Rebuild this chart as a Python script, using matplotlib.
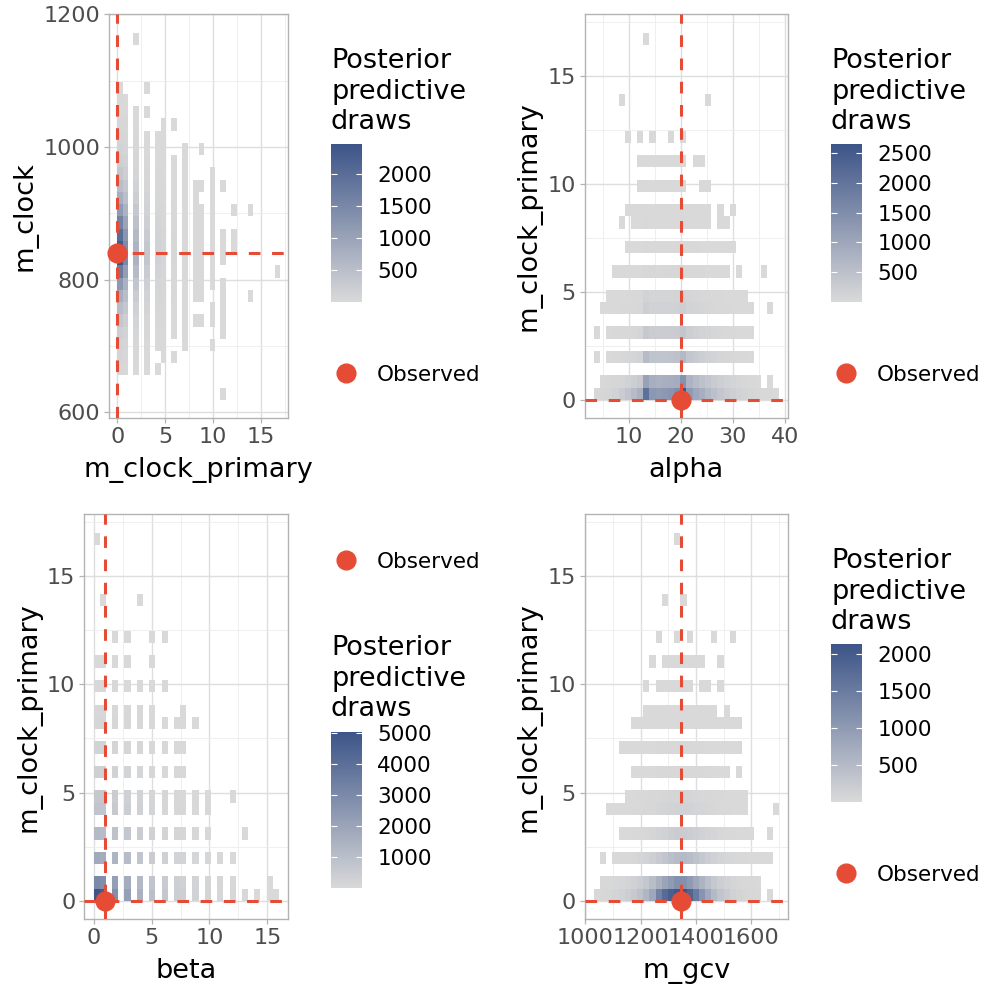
import numpy as np
import matplotlib
matplotlib.use('Agg')
import matplotlib.pyplot as plt
from matplotlib.colors import LinearSegmentedColormap, Normalize
from matplotlib.lines import Line2D

# ---- data (counts of posterior predictive draws per 2d bin) ----
# m_clock_primary is integer valued 0..17, beta 0..16
mcp_max = 17
beta_max = 16

# panel 1: columns keyed by m_clock_primary, runs of m_clock bins (bottom up)
mclock_lo, mclock_w = 618.9, 18.44
obs1 = (0, 841)
p1_cols = {
    0: [(2, [40, 70, 120, 200, 330, 520, 800, 1200, 1750, 2470, 2350, 2000, 1600, 1150,
             800, 520, 330, 200, 120, 75, 45, 25, 12, 5])],
    1: [(2, [25, 45, 75, 125, 210, 330, 500, 750, 1100, 1500, 1450, 1250, 1000, 720,
             500, 330, 210, 130, 80, 50, 30, 16, 8])],
    2: [(2, [10, 20, 35, 60, 100, 160, 250, 380, 560, 720, 690, 580, 450, 320, 210, 130,
             80, 50, 30, 18, 9, 4]), (29, [1])],
    3: [(2, [4, 8, 15, 30, 55, 90, 140, 200, 270, 350, 330, 270, 200, 140, 90, 55, 30, 18,
             9, 5]), (23, [2]), (25, [1])],
    4: [(2, [1]), (4, [4, 10, 20, 35, 55, 85, 115, 150, 140, 120, 95, 65, 40, 25, 15, 8,
                       4, 2])],
    5: [(3, [1, 3, 6, 12, 20, 32, 47, 62, 78, 75, 62, 48, 35, 24, 15, 9, 5, 3, 2, 1])],
    6: [(3, [1]), (5, [2, 4, 8, 13, 20, 28, 38, 36, 30, 22, 15, 9, 5, 3, 2]), (22, [1])],
    7: [(4, [1, 1, 2, 4, 6, 9, 13, 18, 17, 15, 11, 8, 5, 3, 2, 1, 1])],
    8: [(6, [2]), (8, [3, 5, 7, 9, 10, 9, 8, 6, 5, 3])],
    9: [(6, [1]), (8, [2, 3, 4, 5, 5, 5, 4, 3]), (17, [1]), (20, [1])],
    10: [(4, [1]), (6, [1, 1]), (9, [1, 2, 3, 3, 3, 2, 2, 1, 1, 1])],
    11: [(0, [1]), (5, [1, 1, 2, 2, 1]), (11, [1, 1, 1]), (17, [1])],
    12: [(12, [1, 1]), (15, [1])],
    14: [(8, [1]), (15, [1])],
    17: [(10, [1])],
}

# panel 2: rows keyed by m_clock_primary, runs of alpha bins
alpha_lo, alpha_w = 3.33, 1.186
obs2 = (20, 0)
p2_rows = {
    0: [(0, [30, 60, 90, 150, 250, 400, 600, 800, 2100, 1300, 1250, 1300, 1350, 1500, 2650,
             1250, 1000, 850, 650, 500, 380, 280, 200, 150, 100, 70, 50, 30, 15, 5])],
    1: [(1, [20, 35, 55, 90, 140, 220, 320, 1100, 850, 800, 820, 850, 900, 1400, 750, 600,
             480, 380, 280, 200, 140, 100, 70, 45, 25, 10]), (28, [2])],
    2: [(0, [3]), (2, [10, 20, 35, 55, 85, 130, 600, 450, 420, 430, 450, 480, 650, 380, 300,
                       230, 170, 120, 80, 55, 35, 20, 12, 5])],
    3: [(0, [2]), (2, [6, 12, 20, 32, 50, 75, 350, 260, 240, 250, 260, 280, 380, 220, 170,
                       130, 95, 65, 45, 30, 18, 10, 6, 3])],
    4: [(1, [2, 4, 7, 12, 20, 30, 45, 200, 150, 140, 145, 150, 160, 220, 130, 100, 75, 55,
             38, 25, 16, 10, 6, 4, 2]), (28, [1])],
    5: [(2, [2, 4, 7, 12, 18, 28, 120, 90, 85, 88, 92, 98, 130, 80, 60, 45, 33, 23, 15, 10,
             6, 4, 2])],
    6: [(3, [1, 2, 4, 7, 10, 45, 35, 32, 34, 36, 38, 50, 30, 22, 16, 11, 7, 4, 2]),
        (23, [1]), (27, [1])],
    7: [(5, [1, 3, 5, 25, 18, 17, 18, 19, 20, 28, 16, 12, 9, 6, 4, 2, 1, 1])],
    8: [(4, [1]), (6, [2, 3, 12, 9, 8, 9, 9, 10, 14, 8, 6, 4, 2]), (20, [1, 1])],
    9: [(5, [1, 1, 2, 7, 5, 5, 5, 5, 6, 8, 5, 3, 2, 1]), (20, [1]), (22, [1])],
    10: [(7, [1, 5, 3, 3, 3, 3, 3, 4]), (17, [1, 1])],
    11: [(7, [1, 3, 2, 2, 2, 2, 2, 3]), (16, [1, 1])],
    12: [(5, [1]), (7, [1]), (9, [1]), (12, [1]), (14, [1])],
    14: [(4, [1]), (18, [1])],
    17: [(8, [1])],
}

# panel 3: rows keyed by m_clock_primary, counts for beta = 0..16
obs3 = (1, 0)
p3_rows = {
    0: [5030, 4700, 2800, 2200, 1500, 1000, 700, 450, 400, 280, 180, 110, 60, 30, 15, 8, 4],
    1: [3000, 2800, 2200, 1700, 1200, 800, 550, 380, 330, 220, 140, 85, 45, 0, 0, 6, 0],
    2: [1800, 1700, 1400, 1100, 750, 500, 330, 220, 200, 130, 80, 45, 20, 0, 0, 0, 0],
    3: [1200, 1100, 900, 700, 480, 320, 210, 140, 120, 75, 40, 0, 0, 3, 0, 0, 0],
    4: [800, 750, 600, 450, 300, 200, 130, 85, 75, 45, 25, 0, 0, 0, 0, 0, 0],
    5: [650, 600, 480, 360, 240, 160, 100, 65, 55, 35, 18, 0, 2, 0, 0, 0, 0],
    6: [380, 350, 280, 200, 130, 85, 55, 35, 30, 0, 0, 0, 0, 0, 0, 0, 0],
    7: [220, 200, 160, 115, 75, 50, 30, 20, 18, 0, 0, 0, 0, 0, 0, 0, 0],
    8: [130, 120, 95, 70, 45, 30, 18, 12, 10, 5, 0, 0, 0, 0, 0, 0, 0],
    9: [80, 75, 55, 40, 25, 15, 0, 0, 5, 0, 0, 0, 0, 0, 0, 0, 0],
    10: [40, 35, 25, 18, 10, 6, 3, 0, 0, 0, 0, 0, 0, 0, 0, 0, 0],
    11: [20, 18, 12, 8, 0, 3, 0, 0, 0, 0, 0, 0, 0, 0, 0, 0, 0],
    12: [0, 0, 5, 4, 0, 2, 1, 0, 0, 0, 0, 0, 0, 0, 0, 0, 0],
    14: [0, 2, 0, 0, 1, 0, 0, 0, 0, 0, 0, 0, 0, 0, 0, 0, 0],
    17: [1, 0, 0, 0, 0, 0, 0, 0, 0, 0, 0, 0, 0, 0, 0, 0, 0],
}

# panel 4: rows keyed by m_clock_primary, runs of m_gcv bins
gcv_lo, gcv_w = 1031, 22.3
obs4 = (1347, 0)
p4_rows = {
    0: [(0, [15, 30, 50, 80, 120, 180, 260, 380, 550, 800, 1400, 1750, 1950, 2080, 2130,
             1850, 1500, 1100, 780, 520, 340, 220, 140, 85, 50, 28, 12]), (28, [2])],
    1: [(1, [10, 20, 35, 55, 85, 130, 200, 300, 450, 650, 850, 1000, 1150, 1150, 1000, 800,
             600, 420, 280, 180, 110, 70, 40, 22, 10, 4])],
    2: [(1, [2]), (3, [8, 14, 25, 40, 65, 100, 160, 240, 330, 420, 480, 500, 450, 370, 280,
                       200, 140, 90, 55, 35, 20, 12, 7, 4, 2, 1])],
    3: [(4, [4, 8, 14, 24, 40, 65, 100, 140, 180, 210, 220, 200, 165, 125, 90, 60, 40, 25,
             15, 9, 5, 2]), (28, [1])],
    4: [(2, [2, 3, 5, 8, 12, 18, 28, 42, 60, 80, 100, 115, 120, 110, 90, 70, 50, 35, 23, 14,
             8, 4, 2]), (29, [1])],
    5: [(5, [4, 7, 12, 18, 27, 38, 50, 62, 70, 72, 66, 55, 42, 30, 20, 13, 8, 5, 3, 1])],
    6: [(6, [2, 3, 5, 8, 12, 16, 20, 23, 24, 22, 18, 14, 10, 6, 4, 2]), (23, [1])],
    7: [(4, [1, 2, 3, 4, 6, 8, 10, 12, 14, 15, 15, 14, 12, 10, 8, 6, 4, 3, 2, 1])],
    8: [(6, [1, 2, 3, 4, 5, 6, 7, 8, 8, 7, 6, 5, 4, 3, 2, 2, 1, 1])],
    9: [(8, [1, 2, 2, 3, 3, 4, 4, 3, 3, 2, 2, 1]), (21, [1])],
    10: [(8, [1]), (10, [2, 2, 2, 2, 2, 2]), (17, [1, 1]), (20, [1])],
    11: [(9, [1]), (11, [1, 2, 2, 2, 2, 1, 1]), (20, [1])],
    12: [(10, [1]), (13, [1]), (15, [1]), (19, [1]), (22, [1])],
    14: [(11, [1]), (14, [1])],
    17: [(13, [1])],
}

NB = 30
RED = '#E64B35'
cmap = LinearSegmentedColormap.from_list('ppd', ['#D9D9D9', '#3C5488'])


def int_bin(n, top):
    # ggplot bin2d style: 30 right-closed bins from 0 to top
    w = top / NB
    return int(min(max(np.ceil(n / w - 1e-6) - 1, 0), NB - 1))


def edges(lo, w):
    return lo + w * np.arange(NB + 1)


def grid_rows(rows, top):
    g = np.full((NB, NB), np.nan)
    for n, segs in rows.items():
        i = int_bin(n, top)
        for j0, counts in segs:
            for k, c in enumerate(counts):
                if c > 0:
                    g[i, j0 + k] = c
    return g


# build grids
g1 = np.full((NB, NB), np.nan)
for n, segs in p1_cols.items():
    j = int_bin(n, mcp_max)
    for k0, counts in segs:
        for k, c in enumerate(counts):
            if c > 0:
                g1[k0 + k, j] = c
g2 = grid_rows(p2_rows, mcp_max)
g3 = np.full((NB, NB), np.nan)
for n, counts in p3_rows.items():
    i = int_bin(n, mcp_max)
    for b, c in enumerate(counts):
        if c > 0:
            g3[i, int_bin(b, beta_max)] = c
g4 = grid_rows(p4_rows, mcp_max)

mcp_edges = edges(0, mcp_max / NB)

fig = plt.figure(figsize=(10, 10), dpi=100)


def add_ax(l, t, r, b):
    return fig.add_axes([l / 1000, 1 - b / 1000, (r - l) / 1000, (b - t) / 1000])


def expand(e):
    r = e[-1] - e[0]
    return e[0] - 0.05 * r, e[-1] + 0.05 * r


def panel(ax, xe, ye, g, obs, xlab, ylab, xt, xmin, yt, ymin):
    vmax = np.nanmax(g)
    mesh = ax.pcolormesh(xe, ye, np.ma.masked_invalid(g), cmap=cmap,
                         norm=Normalize(1, vmax), shading='flat', zorder=1,
                         linewidth=0, antialiased=False)
    ax.set_xlim(*expand(xe))
    ax.set_ylim(*expand(ye))
    ax.set_xticks(xt)
    ax.set_yticks(yt)
    ax.set_xticks(xmin, minor=True)
    ax.set_yticks(ymin, minor=True)
    ax.set_axisbelow(True)
    ax.grid(which='major', color='#DEDEDE', lw=1.0)
    ax.grid(which='minor', color='#EDEDED', lw=0.6)
    for s in ax.spines.values():
        s.set_color('#B3B3B3')
        s.set_linewidth(1.0)
    ax.tick_params(which='major', length=3.5, width=0.9, color='#B3B3B3',
                   labelsize=16, labelcolor='#4D4D4D', pad=3)
    ax.tick_params(which='minor', length=0)
    ax.set_xlabel(xlab, fontsize=19.5, labelpad=7)
    ax.set_ylabel(ylab, fontsize=19.5, labelpad=4)
    ax.axvline(obs[0], color=RED, lw=2.2, dashes=(3.8, 3.8), zorder=3)
    ax.axhline(obs[1], color=RED, lw=2.2, dashes=(3.8, 3.8), zorder=3)
    ax.plot([obs[0]], [obs[1]], 'o', color=RED, ms=13.5, zorder=4, clip_on=False)
    return mesh


def legend(mesh, x, title_y, cb_top, cb_bot, ticks, obs_y):
    for k, line in enumerate(['Posterior', 'predictive', 'draws']):
        fig.text(x / 1000, 1 - (title_y + 30.5 * k) / 1000, line, fontsize=19.5,
                 va='baseline', ha='left')
    cax = fig.add_axes([x / 1000, 1 - cb_bot / 1000, 31 / 1000, (cb_bot - cb_top) / 1000])
    cb = fig.colorbar(mesh, cax=cax)
    cb.outline.set_visible(False)
    cb.set_ticks(ticks)
    cax.tick_params(axis='y', direction='in', length=4.3, width=0.8, color='white',
                    left=True, right=True, labelleft=False, labelright=True,
                    labelsize=15.5, labelcolor='black', pad=11)
    fig.add_artist(Line2D([(x + 15) / 1000], [1 - obs_y / 1000], marker='o', ms=13.5,
                          color=RED, lw=0, transform=fig.transFigure))
    fig.text((x + 46) / 1000, 1 - obs_y / 1000, 'Observed', fontsize=15.5,
             va='center_baseline', ha='left')


ax1 = add_ax(109, 14.3, 288.3, 418.3)
m1 = panel(ax1, mcp_edges, edges(mclock_lo, mclock_w), g1, obs1, 'm_clock_primary',
           'm_clock', [0, 5, 10, 15], [2.5, 7.5, 12.5, 17.5], [600, 800, 1000, 1200],
           [700, 900, 1100])
ax2 = add_ax(584.7, 14.3, 788.3, 418.3)
m2 = panel(ax2, edges(alpha_lo, alpha_w), mcp_edges, g2, obs2, 'alpha',
           'm_clock_primary', [10, 20, 30, 40], [5, 15, 25, 35], [0, 5, 10, 15],
           [2.5, 7.5, 12.5, 17.5])
ax3 = add_ax(84.3, 514.3, 288.3, 919.3)
m3 = panel(ax3, edges(0, beta_max / NB), mcp_edges, g3, obs3, 'beta',
           'm_clock_primary', [0, 5, 10, 15], [2.5, 7.5, 12.5], [0, 5, 10, 15],
           [2.5, 7.5, 12.5, 17.5])
ax4 = add_ax(584.7, 514.3, 788.3, 919.3)
m4 = panel(ax4, edges(gcv_lo, gcv_w), mcp_edges, g4, obs4, 'm_gcv',
           'm_clock_primary', [1000, 1200, 1400, 1600], [1100, 1300, 1500, 1700],
           [0, 5, 10, 15], [2.5, 7.5, 12.5, 17.5])

legend(m1, 331, 68.3, 144.3, 301.7, [500, 1000, 1500, 2000], 372.7)
legend(m2, 831, 68.3, 144.3, 301.7, [500, 1000, 1500, 2000, 2500], 372.7)
legend(m3, 331, 655, 731.7, 888.3, [1000, 2000, 3000, 4000, 5000], 560)
legend(m4, 831, 568.3, 644.3, 801.7, [500, 1000, 1500, 2000], 872.7)

fig.savefig('out.png', dpi=100)
